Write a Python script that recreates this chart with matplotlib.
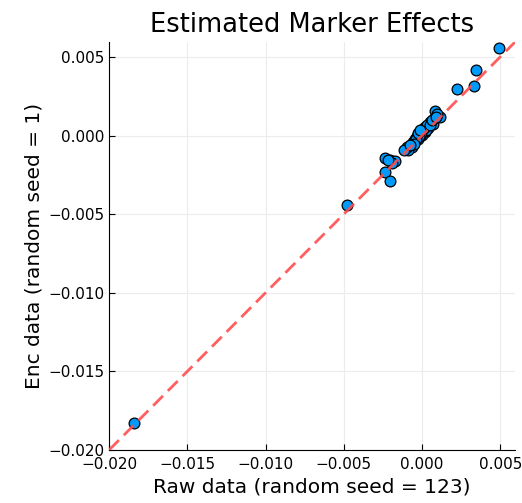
import matplotlib
matplotlib.use("Agg")
import matplotlib.pyplot as plt

# Estimated marker effects: raw data (seed 123) vs encrypted data (seed 1)
raw_effects = [
    0.00492, 0.00345, 0.00332, 0.00224, -0.00479, -0.01839,
    0.00083, 0.00115, 0.00096, 0.00051, 0.00070, 0.00038, 0.00019, 0.00019,
    0.0, -0.00026, -0.00013, -0.00032, -0.00057, -0.00064, -0.00089, -0.00096,
    -0.00115, -0.00045, 0.00006, 0.00026, -0.00006, -0.00019, -0.00038,
    0.00013, 0.00032, 0.00051, 0.00064, 0.00089, -0.00026, -0.00013,
    -0.00051, -0.00077,
    -0.00236, -0.00204, -0.00172, -0.00192, -0.00217, -0.00236, -0.00204,
]
enc_effects = [
    0.00560, 0.00420, 0.00318, 0.00293, -0.00439, -0.01826,
    0.00153, 0.00115, 0.00140, 0.00089, 0.00076, 0.00051, 0.00057, 0.00025,
    0.00006, -0.00025, -0.00006, -0.00006, -0.00038, -0.00070, -0.00089,
    -0.00076, -0.00095, -0.00025, 0.00032, 0.00038, 0.00019, 0.0, -0.00019,
    0.00045, 0.00064, 0.00070, 0.00102, 0.00121, 0.00019, 0.00038,
    -0.00051, -0.00057,
    -0.00140, -0.00153, -0.00165, -0.00172, -0.00153, -0.00235, -0.00286,
]
ticks = [-0.020, -0.015, -0.010, -0.005, 0.000, 0.005]
tick_labels = ["\u22120.020", "\u22120.015", "\u22120.010", "\u22120.005", "0.000", "0.005"]

fig = plt.figure(figsize=(5.22, 5.03), dpi=100)
ax = fig.add_axes([0.209, 0.1054, 0.778, 0.8111])

ax.scatter(raw_effects, enc_effects, s=60, color="#009AFA",
           edgecolors="black", linewidths=0.9, zorder=2)
ax.axline((0, 0), slope=1, color="#ff4d4d", alpha=0.9, linestyle=(0, (5, 2.5)),
          linewidth=2.0, zorder=3)

ax.set_xlim(-0.020, 0.00596)
ax.set_ylim(-0.020, 0.00595)
ax.set_xticks(ticks)
ax.set_xticklabels(tick_labels)
ax.set_yticks(ticks)
ax.set_yticklabels(tick_labels)
ax.tick_params(direction="in", length=4, labelsize=11, width=0.8)
ax.tick_params(axis="x", pad=5)

ax.grid(True, color="#ececec", linewidth=0.8)
ax.set_axisbelow(True)
for side in ["top", "right"]:
    ax.spines[side].set_visible(False)

ax.set_title("Estimated Marker Effects", fontsize=18.5, pad=7)
ax.set_xlabel("Raw data (random seed = 123)", fontsize=14.5, labelpad=4)
ax.set_ylabel("Enc data (random seed = 1)", fontsize=14.5, labelpad=3)

fig.savefig("out.png", dpi=100)
